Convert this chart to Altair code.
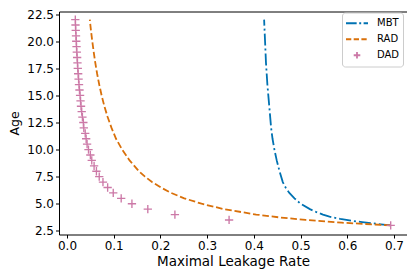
import altair as alt
import pandas as pd

# ---- data ----
series_names = ["MBT", "RAD", "DAD"]
series_colors = ["#0072B2", "#D9700A", "#CC79A7"]

mbt_age = [3.0, 3.1, 3.2, 3.3, 3.4, 3.6, 3.8, 4.0, 4.25, 4.5, 5.0, 5.5, 6.0, 6.5, 7.0,
           8.0, 9.0, 10.0, 11.0, 12.0, 14.0, 16.0, 18.0, 20.0, 22.0]
mbt_rate = [0.693, 0.672, 0.652, 0.632, 0.614, 0.585, 0.562, 0.548, 0.533, 0.520, 0.500,
            0.487, 0.476, 0.468, 0.462, 0.455, 0.449, 0.444, 0.440, 0.437, 0.433, 0.429,
            0.426, 0.424, 0.422]

rad_age = [3.0, 3.25, 3.5, 3.75, 4.0, 4.5, 5.0, 5.5, 6.0, 6.5, 7.0, 7.5, 8.0, 9.0, 10.0,
           11.0, 12.0, 13.0, 14.0, 15.0, 16.0, 17.0, 18.0, 19.0, 20.0, 21.0, 22.0]
rad_rate = [0.693, 0.588, 0.511, 0.452, 0.405, 0.336, 0.288, 0.251, 0.223, 0.201, 0.182,
            0.167, 0.154, 0.134, 0.118, 0.105, 0.0953, 0.0870, 0.0800, 0.0741, 0.0690,
            0.0645, 0.0606, 0.0572, 0.0541, 0.0513, 0.0488]

dad_age = [3.0, 3.5, 4.0, 4.5, 5.0, 5.5, 6.0, 6.5, 7.0, 7.5, 8.0, 8.5, 9.0, 9.5, 10.0,
           10.5, 11.0, 11.5, 12.0, 12.5, 13.0, 13.5, 14.0, 14.5, 15.0, 15.5, 16.0, 16.5,
           17.0, 17.5, 18.0, 18.5, 19.0, 19.5, 20.0, 20.5, 21.0, 21.5, 22.0]
dad_rate = [0.693, 0.347, 0.231, 0.173, 0.139, 0.116, 0.099, 0.087, 0.077, 0.069, 0.063,
            0.058, 0.053, 0.050, 0.046, 0.043, 0.041, 0.039, 0.036, 0.035, 0.033, 0.0315,
            0.030, 0.029, 0.028, 0.0267, 0.0257, 0.0248, 0.0239, 0.0231, 0.0224, 0.0217,
            0.0210, 0.0204, 0.0198, 0.0193, 0.0187, 0.0182, 0.0178]

x_ticks = [0.0, 0.1, 0.2, 0.3, 0.4, 0.5, 0.6, 0.7]
y_ticks = [2.5, 5.0, 7.5, 10.0, 12.5, 15.0, 17.5, 20.0, 22.5]

mbt_df = pd.DataFrame({"rate": mbt_rate, "age": mbt_age, "series": "MBT"})
rad_df = pd.DataFrame({"rate": rad_rate, "age": rad_age, "series": "RAD"})
dad_df = pd.DataFrame({"rate": dad_rate, "age": dad_age, "series": "DAD"})

FONT = "DejaVu Sans"

x_enc = alt.X(
    "rate:Q",
    scale=alt.Scale(domain=[-0.01713, 0.7279], nice=False, zero=False),
    axis=alt.Axis(values=x_ticks, format=".1f", title="Maximal Leakage Rate"),
)
y_enc = alt.Y(
    "age:Q",
    scale=alt.Scale(domain=[2.158, 22.749], nice=False, zero=False),
    axis=alt.Axis(values=y_ticks, format=".1f", title="Age"),
)

dashdot_path = "M-1,0H-0.03M0.2,0H0.38M0.6,0H1"
dash_path = "M-1,0H-0.52M-0.3,0H0.18M0.4,0H0.88"
plus_path = "M-0.3,0H0.3M0,-0.3V0.3"

legend_cfg = dict(
    title=None,
    orient="none",
    legendX=283,
    legendY=1,
    symbolSize=484,
    symbolStrokeWidth=1.8,
    labelFontSize=10,
    labelFont=FONT,
    labelColor="black",
    clipHeight=15.5,
    rowPadding=0,
    padding=3,
    labelOffset=8,
    strokeColor="#cccccc",
    fillColor="white",
    cornerRadius=3,
)

mbt_line = alt.Chart(mbt_df).mark_line(
    color=series_colors[0], strokeWidth=1.8, strokeDash=[12, 3, 2, 3]
).encode(x=x_enc, y=y_enc, order="age:Q")

rad_line = alt.Chart(rad_df).mark_line(
    color=series_colors[1], strokeWidth=1.8, strokeDash=[6.6, 2.8]
).encode(x=x_enc, y=y_enc, order="age:Q")

dad_pts = alt.Chart(dad_df).mark_point(
    filled=False, strokeWidth=1.35, size=767, opacity=1
).encode(
    x=x_enc,
    y=y_enc,
    color=alt.Color("series:N", scale=alt.Scale(domain=series_names, range=series_colors),
                    legend=alt.Legend(**legend_cfg)),
    shape=alt.Shape("series:N",
                    scale=alt.Scale(domain=series_names, range=[dashdot_path, dash_path, plus_path]),
                    legend=alt.Legend(**legend_cfg)),
)

chart = alt.layer(mbt_line, rad_line, dad_pts).properties(
    width=348,
    height=223,
    autosize=alt.AutoSizeParams(type="none"),
    padding={"left": 51, "top": 3.5, "right": 0, "bottom": 42.5},
).configure_view(
    stroke="black", strokeWidth=1
).configure_axis(
    grid=False,
    domain=False,
    tickColor="black",
    tickSize=3.5,
    tickWidth=1,
    labelFont=FONT,
    labelFontSize=12,
    labelColor="black",
    labelPadding=2,
    titleFont=FONT,
    titleFontSize=13.5,
    titleFontWeight="normal",
    titleColor="black",
).configure_axisX(
    titlePadding=3,
).configure_axisY(
    titleFontSize=12.5,
    titlePadding=5,
)

chart.save("out.html", embed_options={"renderer": "svg", "actions": False})
